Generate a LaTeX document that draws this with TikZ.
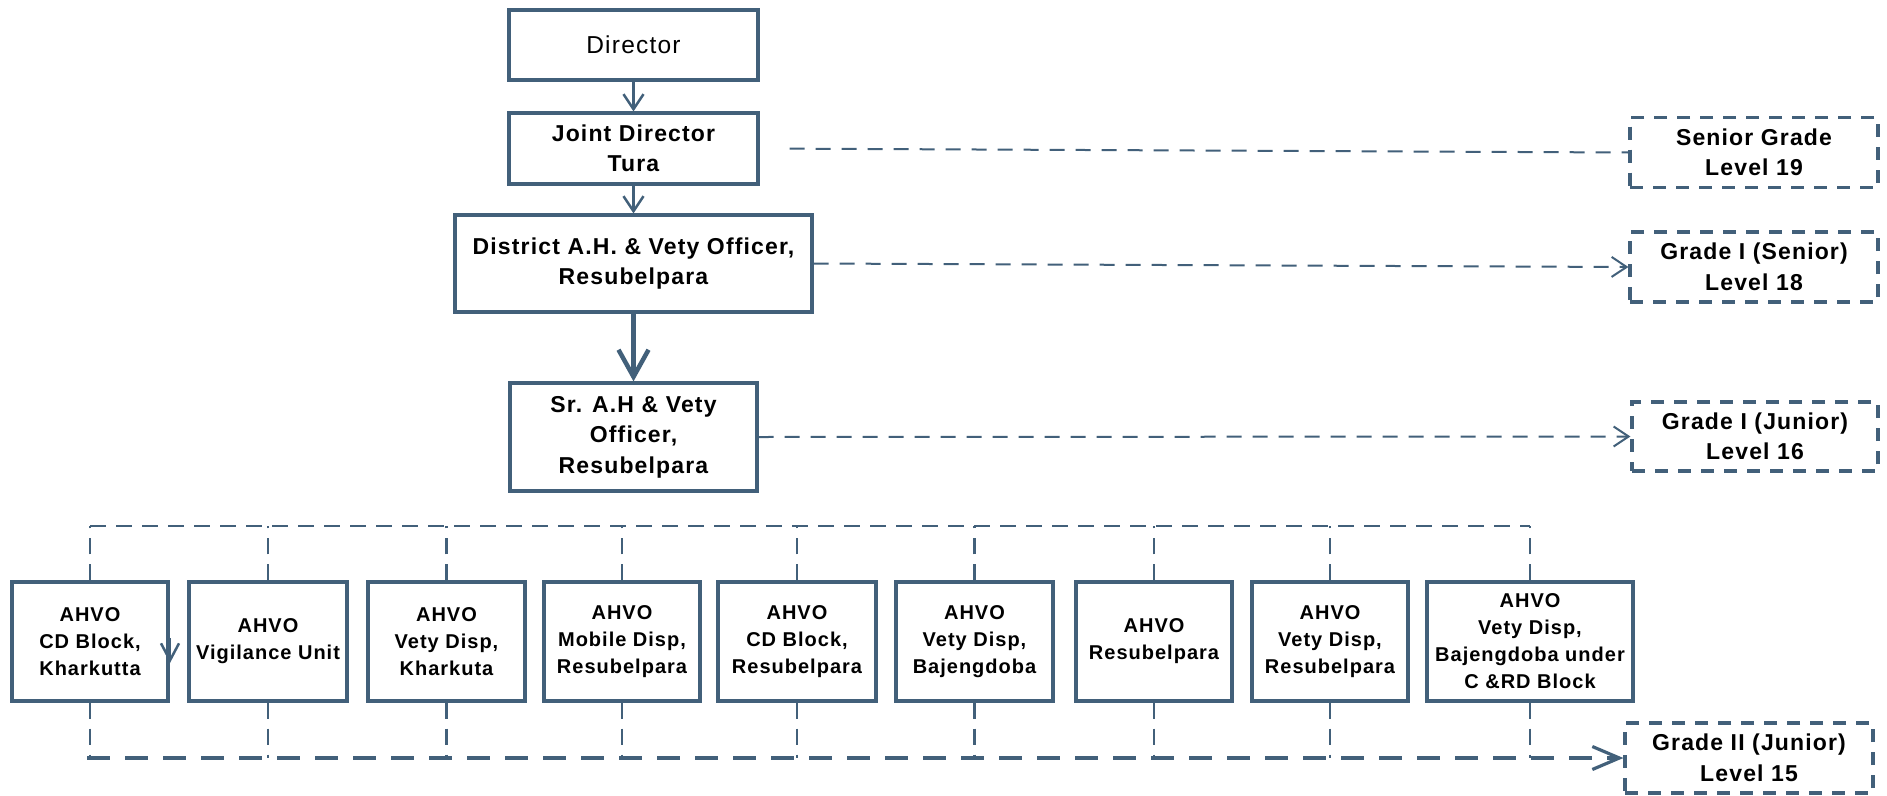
\documentclass[tikz,border=0pt]{standalone}
\usepackage{fontspec}
\setmainfont{Liberation Sans}[LetterSpace=5]
\usetikzlibrary{arrows.meta}
\definecolor{lc}{RGB}{66,96,122}
\begin{document}
\begin{tikzpicture}[x=1pt,y=-1pt,
    box/.style={draw=lc, line width=3.2pt, fill=white, align=center, inner sep=0pt,
        font=\bfseries\fontsize{23}{30.5}\selectfont},
    grade/.style={box, dash pattern=on 13pt off 10pt, minimum width=248pt, minimum height=70pt},
    unit/.style={box, font=\bfseries\fontsize{20}{27}\selectfont, minimum width=157pt, minimum height=119pt},
    link/.style={draw=lc, line width=2pt, dash pattern=on 15pt off 11pt},
    tree/.style={draw=lc, line width=2.7pt, dash pattern=on 16pt off 10pt},
    base/.style={draw=lc, line width=3.2pt, dash pattern=on 23pt off 15pt},
    tip/.style={-{Straight Barb[length=15pt,width=20pt]}},
    bigtip/.style={-{Straight Barb[length=27pt,width=30pt]}}]
\useasboundingbox (0,0) rectangle (1887,795);
% chain of command
\node[box, font=\fontsize{24.5}{30}\selectfont, minimum width=249pt, minimum height=70pt] (dir) at (633.5,45) {Director};
\node[box, minimum width=249pt, minimum height=71pt] (jd) at (633.5,148.5) {Joint Director\\Tura};
\node[box, minimum width=357pt, minimum height=97pt] (dvo) at (633.5,263.5) {District A.H. \& Vety Officer,\\Resubelpara};
\node[box, minimum width=247pt, minimum height=108pt] (svo) at (633.5,437) {Sr. A.H \& Vety\\Officer,\\Resubelpara};
\draw[lc, line width=2.5pt, tip] (dir) -- (jd);
\draw[lc, line width=2.5pt, tip] (jd) -- (dvo);
\draw[lc, line width=4.5pt, bigtip] (dvo) -- (svo);
% grades
\node[grade] (g19) at (1754,152.5) {Senior Grade\\Level 19};
\node[grade] (g18) at (1754,267) {Grade I (Senior)\\Level 18};
\node[grade, minimum width=246pt, minimum height=69pt] (g16) at (1755,436.5) {Grade I (Junior)\\Level 16};
\node[grade] (g15) at (1749,758) {Grade II (Junior)\\Level 15};
\draw[link, shorten <=30pt] (jd.east) -- (g19.west);
\draw[link, tip] (dvo.east) -- (g18.west);
\draw[link, tip] (svo.east) -- (g16.west);
% AHVO units
\node[unit, minimum width=156pt] (u1) at (90,641.5) {AHVO\\CD Block,\\Kharkutta};
\node[unit, minimum width=158pt] (u2) at (268,641.5) {AHVO\\Vigilance Unit};
\node[unit] (u3) at (446.5,641.5) {AHVO\\Vety Disp,\\Kharkuta};
\node[unit, minimum width=156pt] (u4) at (622,641.5) {AHVO\\Mobile Disp,\\Resubelpara};
\node[unit, minimum width=158pt] (u5) at (797,641.5) {AHVO\\CD Block,\\Resubelpara};
\node[unit] (u6) at (974.5,641.5) {AHVO\\Vety Disp,\\Bajengdoba};
\node[unit, minimum width=156pt] (u7) at (1154,641.5) {AHVO\\Resubelpara};
\node[unit, minimum width=156pt] (u8) at (1330,641.5) {AHVO\\Vety Disp,\\Resubelpara};
\node[unit, minimum width=206pt] (u9) at (1530,641.5) {AHVO\\Vety Disp,\\Bajengdoba under\\C \&RD Block};
\coordinate (tl) at (90,526);
\coordinate (tr) at (1530,526);
\coordinate (bl) at (87,758);
\draw[tree] (tl) -- (tr);
\foreach \u in {u1,u2,u3,u4,u5,u6,u7,u8,u9}{
    \draw[tree] (\u.north) -- (\u.north |- tl);
    \draw[tree] (\u.south) -- (\u.south |- bl);
}
\draw[base, -{Straight Barb[length=27pt,width=23pt]}] (bl) -- (g15.west);
% stray arrow at the first unit
\coordinate (sa) at (170,638);
\coordinate (sb) at (170,663);
\draw[lc, line width=2.5pt, -{Straight Barb[length=17pt,width=18pt]}] (sa) -- (sb);
\end{tikzpicture}
\end{document}
